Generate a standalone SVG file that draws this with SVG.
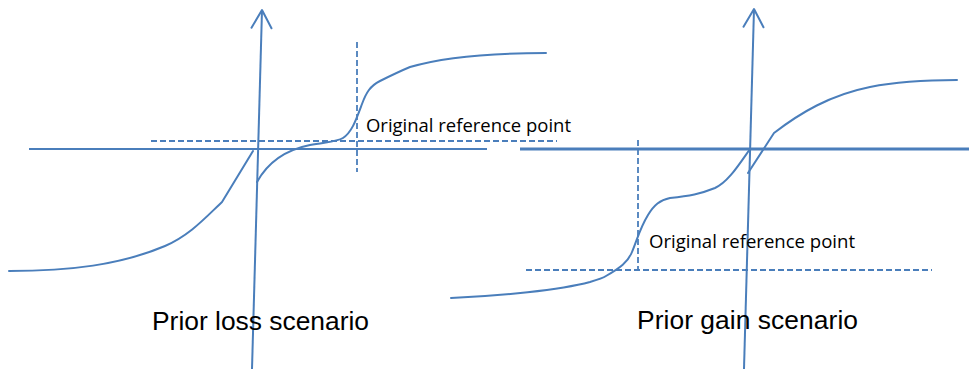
<svg xmlns="http://www.w3.org/2000/svg" width="969" height="369" viewBox="0 0 969 369">
<style>
.ln{fill:none;stroke:#4A7EBB;stroke-width:2;stroke-linecap:round;stroke-linejoin:round}
.ax{fill:none;stroke:#4A7EBB;stroke-width:2}
.dash{fill:none;stroke:#4A7EBB;stroke-width:1.8;stroke-dasharray:6 3}
.lbl{font-family:"Liberation Sans",Arial,sans-serif;font-size:26.4px;fill:#000}
.ref{font-family:"Open Sans","Liberation Sans",sans-serif;font-size:18.5px;fill:#000}
</style>
<defs>
<marker id="arr" viewBox="-21 -12 23 24" markerWidth="23" markerHeight="24" refX="0" refY="0" markerUnits="userSpaceOnUse" orient="auto">
<path d="M-18,-10 L0,0 L-18,10" fill="none" stroke="#4A7EBB" stroke-width="2" stroke-linecap="round" stroke-linejoin="round"/>
</marker>
</defs>
<rect width="969" height="369" fill="#fff"/>
<g id="left-panel">
<line class="ax" x1="29" y1="149" x2="487" y2="149"/>
<line class="ax" x1="252" y1="369" x2="262" y2="10" marker-end="url(#arr)"/>
<line class="dash" x1="151" y1="141" x2="557" y2="141"/>
<line class="dash" x1="357" y1="42" x2="357" y2="172"/>
<path class="ln" d="M9,271 C70,271 120,265 165,246 C190,235 205,218 222,202 L253,151"/>
<path class="ln" d="M257,182 C268,162 285,150 310,145 C325,142 337,142 343,138 C352,132 356,120 362,104 C366,93 370,86 380,81 C390,76 398,72 410,67 C450,55 500,53 546,53"/>
<text class="ref" x="366" y="132" textLength="205" lengthAdjust="spacingAndGlyphs">Original reference point</text>
<text class="lbl" x="152" y="330" textLength="217">Prior loss scenario</text>
</g>
<g id="right-panel">
<line class="ax" x1="520" y1="149" x2="969" y2="149" style="stroke-width:3"/>
<line class="ax" x1="744" y1="369" x2="754" y2="9" marker-end="url(#arr)"/>
<line class="dash" x1="526" y1="270" x2="932" y2="270"/>
<line class="dash" x1="638" y1="140" x2="638" y2="270"/>
<path class="ln" d="M451,298 C500,296 560,290 590,282 C600,279 603,278 606,276 C620,268 628,262 632,252 C637,240 640,228 648,215 C654,205 660,200 670,198 C690,196 700,194 715,188 C728,182 738,166 750,149"/>
<path class="ln" d="M748,173 L774,133 C800,113 830,95 870,87 C900,81 930,80 957,80"/>
<text class="ref" x="649" y="248" textLength="206" lengthAdjust="spacingAndGlyphs">Original reference point</text>
<text class="lbl" x="637" y="329" textLength="221">Prior gain scenario</text>
</g>
</svg>
